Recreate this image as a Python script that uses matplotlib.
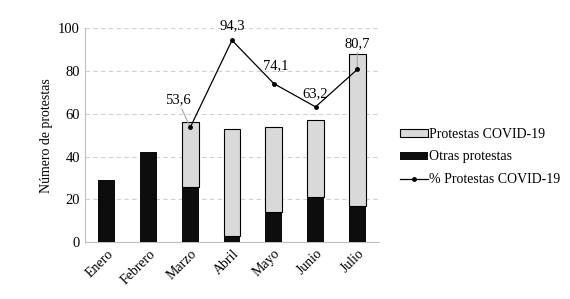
import numpy as np
import matplotlib.pyplot as plt

plt.rcParams['font.family'] = ['Liberation Serif', 'DejaVu Serif']

meses = ['Enero', 'Febrero', 'Marzo', 'Abril', 'Mayo', 'Junio', 'Julio']
otras = [29, 42, 26, 3, 14, 21, 17]
covid = [0, 0, 30, 50, 40, 36, 71]
pct_meses = [2, 3, 4, 5, 6]
pct_covid = [53.6, 94.3, 74.1, 63.2, 80.7]

fig = plt.figure(figsize=(5.7, 2.99), dpi=100)
ax = fig.add_axes([0.149, 0.19, 0.516, 0.716])

x = np.arange(len(meses))
b_otras = ax.bar(x, otras, width=0.4, color='#0d0d0d', label='Otras protestas', zorder=3)
cv = np.array(covid, dtype=float)
mask = cv > 0
b_covid = ax.bar(x[mask], cv[mask], bottom=np.array(otras)[mask], width=0.4,
                 color='#d9d9d9', edgecolor='black', linewidth=0.8,
                 label='Protestas COVID-19', zorder=3)
l_pct, = ax.plot(pct_meses, pct_covid, color='black', linewidth=0.9, marker='o',
                 markersize=2.5, label='% Protestas COVID-19', zorder=4)

# etiquetas de porcentaje
offsets = [(-0.3, 10, True), (0, 4, False), (0.05, 5.5, False), (0, 3, False), (0, 9, True)]
for xi, yi, (dx, dy, lead) in zip(pct_meses, pct_covid, offsets):
    txt = f'{yi:.1f}'.replace('.', ',')
    if lead:
        ax.annotate(txt, xy=(xi, yi), xytext=(xi + dx, yi + dy), ha='center', va='bottom',
                    fontsize=10.5, arrowprops=dict(arrowstyle='-', color='#a6a6a6', lw=0.8,
                                                   shrinkA=0, shrinkB=0))
    else:
        ax.text(xi + dx, yi + dy, txt, ha='center', va='bottom', fontsize=10.5)

ax.set_xlim(-0.52, 6.52)
ax.set_ylim(0, 100)
ax.set_yticks(range(0, 101, 20))
ax.set_xticks(x)
ax.set_xticklabels(meses, rotation=45, ha='right', rotation_mode='anchor', fontsize=10)
ax.tick_params(axis='y', labelsize=10.5, length=0)
ax.tick_params(axis='x', length=0)
ax.set_ylabel('Número de protestas', fontsize=10)
ax.yaxis.grid(True, linestyle=(0, (4, 3)), color='#d0d0d0', linewidth=0.8, zorder=0)
for s in ['top', 'right']:
    ax.spines[s].set_visible(False)
ax.spines['left'].set_color('#bfbfbf')
ax.spines['bottom'].set_color('#bfbfbf')

fig.legend([b_covid, b_otras, l_pct],
           ['Protestas COVID-19', 'Otras protestas', '% Protestas COVID-19'],
           loc='center left', bbox_to_anchor=(0.68, 0.475), frameon=False, fontsize=10,
           handlelength=2.0, handleheight=0.5, handletextpad=0.1, labelspacing=0.7)

fig.savefig('out.png', dpi=100)
